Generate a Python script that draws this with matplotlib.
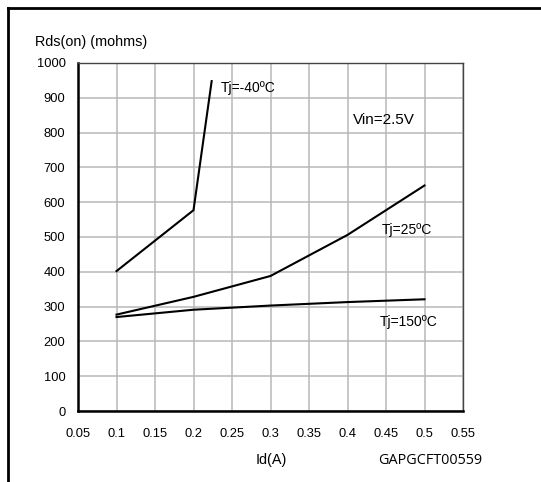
import matplotlib
matplotlib.use("Agg")
import matplotlib.pyplot as plt
from matplotlib.lines import Line2D

# Data
id_m40 = [0.1, 0.2, 0.2236]
rds_m40 = [402, 577, 948]
id_25 = [0.1, 0.2, 0.3, 0.4, 0.5]
rds_25 = [277, 328, 388, 506, 648]
id_150 = [0.1, 0.2, 0.3, 0.4, 0.5]
rds_150 = [270, 291, 303, 313, 321]
xticks = [0.05, 0.1, 0.15, 0.2, 0.25, 0.3, 0.35, 0.4, 0.45, 0.5, 0.55]
xticklabels = ["0.05", "0.1", "0.15", "0.2", "0.25", "0.3", "0.35", "0.4", "0.45", "0.5", "0.55"]
yticks = [0, 100, 200, 300, 400, 500, 600, 700, 800, 900, 1000]

plt.rcParams['font.family'] = ['Liberation Sans', 'DejaVu Sans']

W, H = 541, 482
fig = plt.figure(figsize=(W / 100, H / 100), dpi=100)

# outer frame (left + top lines)
fig.add_artist(Line2D([7.5 / W, 7.5 / W], [0, 1 - 7.5 / H], transform=fig.transFigure,
                      color='black', lw=2))
fig.add_artist(Line2D([7.5 / W, 1], [1 - 7.5 / H, 1 - 7.5 / H], transform=fig.transFigure,
                      color='black', lw=2))

ax = fig.add_axes([78 / W, 1 - 411 / H, (463 - 78) / W, (411 - 63) / H])
ax.set_xlim(0.05, 0.55)
ax.set_ylim(0, 1000)
ax.set_xticks(xticks)
ax.set_xticklabels(xticklabels)
ax.set_yticks(yticks)
ax.tick_params(length=0, labelsize=9.3, pad=9)
ax.tick_params(axis='x', pad=12)
ax.grid(True, color='#b8b8b8', lw=1.1)
ax.set_axisbelow(True)
for s in ['left', 'bottom']:
    ax.spines[s].set_linewidth(1.8)
    ax.spines[s].set_color('black')
for s in ['top', 'right']:
    ax.spines[s].set_linewidth(1.0)
    ax.spines[s].set_color('#444444')

for xs, ys in [(id_m40, rds_m40), (id_25, rds_25), (id_150, rds_150)]:
    ax.plot(xs, ys, color='black', lw=1.5, solid_joinstyle='miter')

ax.text(0.2357, 928, "Tj=-40ºC", fontsize=10, va='center', ha='left')
ax.text(0.407, 836, "Vin=2.5V", fontsize=11, va='center', ha='left')
ax.text(0.4448, 520, "Tj=25ºC", fontsize=10, va='center', ha='left')
ax.text(0.4422, 256, "Tj=150ºC", fontsize=10, va='center', ha='left')

fig.text(35 / W, 1 - 42 / H, "Rds(on) (mohms)", fontsize=10.4, va='center', ha='left')
fig.text(271 / W, 1 - 460 / H, "Id(A)", fontsize=10.4, va='center', ha='center')
fig.text(378 / W, 1 - 460 / H, "GAPGCFT00559", fontsize=10.4, va='center', ha='left',
         family=['Open Sans', 'DejaVu Sans'])

fig.savefig("out.png", dpi=100)
